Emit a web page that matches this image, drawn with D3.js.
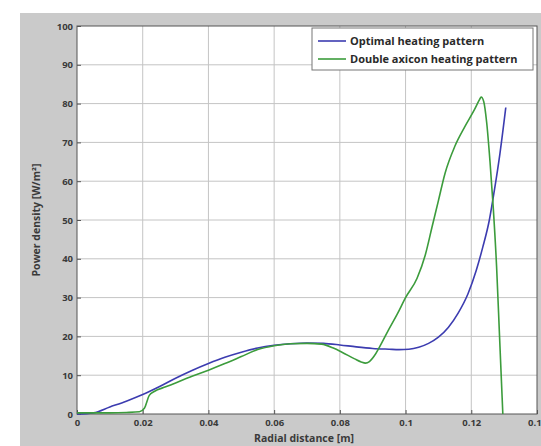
<!DOCTYPE html>
<html lang="en">
<head>
<meta charset="UTF-8">
<title>Power density</title>
<script src="https://d3js.org/d3.v7.min.js"></script>
<style>
  body { margin: 0; padding: 0; background: #fff; }
  svg { display: block; }
  .tick text { font-family: "Open Sans", "DejaVu Sans", sans-serif; font-weight: bold; font-size: 9.5px; fill: #3a3a3a; }
  .lbl { font-family: "Open Sans", "DejaVu Sans", sans-serif; font-weight: bold; font-size: 10.5px; fill: #3a3a3a; }
  .leg { font-family: "Open Sans", "DejaVu Sans", sans-serif; font-weight: bold; font-size: 11px; fill: #2a2a2a; }
</style>
</head>
<body>
<script>
// data
var xTicks = [0, 0.02, 0.04, 0.06, 0.08, 0.1, 0.12, 0.14];
var yTicks = [0, 10, 20, 30, 40, 50, 60, 70, 80, 90, 100];

var optimalX = [0, 0.005, 0.01, 0.015, 0.02, 0.025, 0.03, 0.035, 0.04, 0.045, 0.05, 0.055, 0.06, 0.065, 0.07, 0.075, 0.08, 0.085, 0.09, 0.095, 0.098, 0.101, 0.104, 0.107, 0.11, 0.113, 0.116, 0.119, 0.1215, 0.1235, 0.1255, 0.127, 0.1287, 0.1305];
var optimalY = [0, 0.3, 1.8, 3.3, 5, 7, 9.2, 11.2, 13, 14.6, 15.9, 17, 17.7, 18.1, 18.3, 18.2, 17.8, 17.3, 16.9, 16.7, 16.6, 16.7, 17.2, 18.2, 19.8, 22.3, 26, 31, 37, 43, 50, 57.5, 67, 79];

var axiconX = [0, 0.005, 0.01, 0.015, 0.019, 0.0205, 0.022, 0.0235, 0.027, 0.03, 0.035, 0.04, 0.045, 0.05, 0.055, 0.06, 0.065, 0.07, 0.0744, 0.078, 0.0805, 0.0845, 0.0865, 0.0878, 0.089, 0.0905, 0.0921, 0.0949, 0.0975, 0.1, 0.1035, 0.106, 0.108, 0.11, 0.112, 0.115, 0.118, 0.121, 0.1225, 0.123, 0.1238, 0.1247, 0.1257, 0.1267, 0.1277, 0.1286, 0.1292, 0.1296];
var axiconY = [0.3, 0.3, 0.3, 0.4, 0.6, 1.5, 4.8, 5.8, 7, 8, 9.7, 11.3, 13, 14.8, 16.6, 17.6, 18.1, 18.2, 18, 17, 16, 14.2, 13.4, 13.1, 13.5, 15, 17.3, 21.8, 25.8, 30, 35, 41, 48, 55, 62, 69, 74, 78.5, 81, 81.7, 80.5, 75, 65, 53, 38, 20, 8, 0];

var seriesNames = ["Optimal heating pattern", "Double axicon heating pattern"];
var seriesColors = ["#3c3cb0", "#3c9c3c"];

var width = 541, height = 446;
var svg = d3.select("body").append("svg").attr("width", width).attr("height", height);

// grey figure background
svg.append("rect").attr("x", 20).attr("y", 13).attr("width", width - 20).attr("height", height - 13).attr("fill", "#cacaca");

var pLeft = 77, pRight = 537, pTop = 26, pBottom = 414;
var x = d3.scaleLinear().domain([0, 0.14]).range([pLeft, pRight]);
var y = d3.scaleLinear().domain([0, 100]).range([pBottom, pTop]);

svg.append("rect").attr("x", pLeft).attr("y", pTop).attr("width", pRight - pLeft).attr("height", pBottom - pTop).attr("fill", "#fff");

// grid
svg.append("g").selectAll("line").data(xTicks.slice(1, -1)).enter().append("line")
  .attr("x1", d => x(d)).attr("x2", d => x(d)).attr("y1", pTop).attr("y2", pBottom)
  .attr("stroke", "#c4c4c4").attr("stroke-width", 1);
svg.append("g").selectAll("line").data(yTicks.slice(1, -1)).enter().append("line")
  .attr("y1", d => y(d)).attr("y2", d => y(d)).attr("x1", pLeft).attr("x2", pRight)
  .attr("stroke", "#c4c4c4").attr("stroke-width", 1);

// axes
var xAxis = svg.append("g").attr("transform", "translate(0," + pBottom + ")")
  .call(d3.axisBottom(x).tickValues(xTicks).tickFormat(d3.format("~g")).tickSize(-4).tickPadding(5));
var yAxis = svg.append("g").attr("transform", "translate(" + pLeft + ",0)")
  .call(d3.axisLeft(y).tickValues(yTicks).tickSize(-4).tickPadding(4));
[xAxis, yAxis].forEach(function(a) {
  a.select(".domain").remove();
  a.selectAll(".tick line").attr("stroke", "#555");
});

svg.append("rect").attr("x", pLeft).attr("y", pTop).attr("width", pRight - pLeft).attr("height", pBottom - pTop)
  .attr("fill", "none").attr("stroke", "#555").attr("stroke-width", 1);

// curves
var line = d3.line().x(d => x(d[0])).y(d => y(d[1])).curve(d3.curveMonotoneX);
var series = [d3.zip(optimalX, optimalY), d3.zip(axiconX, axiconY)];
series.forEach(function(s, i) {
  svg.append("path").datum(s).attr("d", line).attr("fill", "none")
    .attr("stroke", seriesColors[i]).attr("stroke-width", 1.6);
});

// labels
svg.append("text").attr("class", "lbl").attr("x", 304).attr("y", 442).attr("text-anchor", "middle")
  .text("Radial distance [m]");
svg.append("text").attr("class", "lbl").attr("transform", "translate(40," + y(50) + ") rotate(-90)")
  .attr("text-anchor", "middle").text("Power density [W/m²]");

// legend
var leg = svg.append("g").attr("transform", "translate(312,28)");
leg.append("rect").attr("width", 221).attr("height", 42).attr("fill", "#fff").attr("stroke", "#777");
seriesNames.forEach(function(n, i) {
  leg.append("line").attr("x1", 6).attr("x2", 34).attr("y1", 13 + i * 18).attr("y2", 13 + i * 18)
    .attr("stroke", seriesColors[i]).attr("stroke-width", 1.6);
  leg.append("text").attr("class", "leg").attr("x", 38).attr("y", 17 + i * 18).text(n);
});
</script>
</body>
</html>
